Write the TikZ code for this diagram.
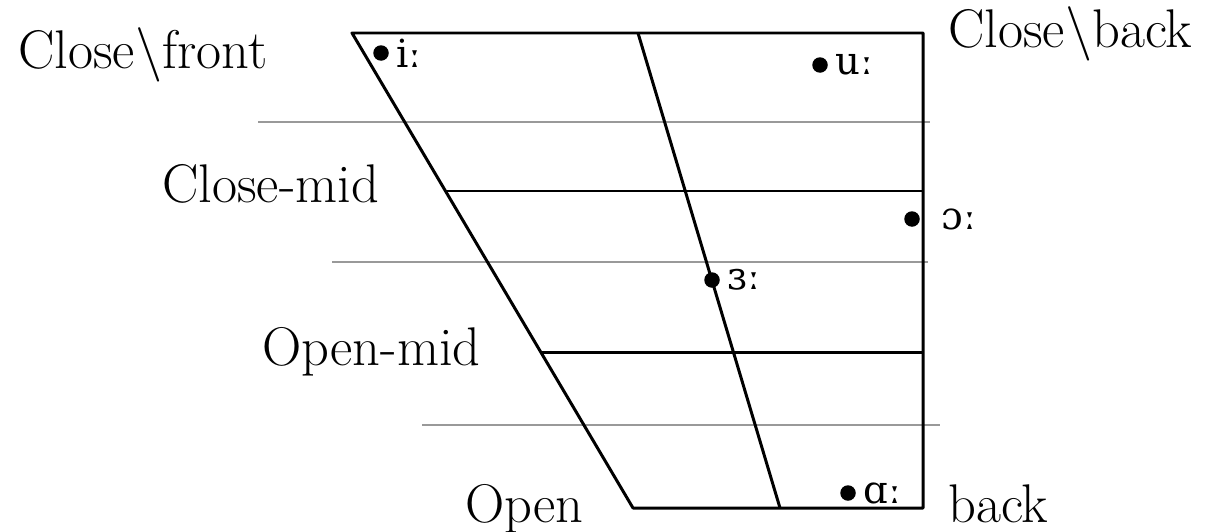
\documentclass[tikz,border=0pt]{standalone}
\usepackage{fontspec}
\newfontfamily\ipafont{DejaVu Serif}

\tikzset{
  vowel/.style={circle,fill,color=black,inner sep=0pt,minimum size=0.31cm},
  ipa/.style={text=black,font=\ipafont\fontsize{22}{26}\selectfont,inner sep=1pt,label distance=3pt},
  level/.style={font=\fontsize{31}{36}\selectfont,inner sep=0pt,anchor=base west},
  guide/.style={gray!80,line width=1pt}
}

\begin{document}
\begin{tikzpicture}[x=0.02cm,y=-0.02cm]
  \useasboundingbox (0,0) rectangle (1206,531);

  % corners of the chart
  \coordinate (cf) at (352, 33);
  \coordinate (cb) at (923, 33);
  \coordinate (of) at (633,508);
  \coordinate (ob) at (923,508);
  \coordinate (ct) at (638, 33);
  \coordinate (cbt) at (780,508);

  \coordinate (cm0) at (446,191);
  \coordinate (cm1) at (923,191);
  \coordinate (om0) at (541,352);
  \coordinate (om1) at (923,352);

  \coordinate (g10) at (258,122);
  \coordinate (g11) at (930,122);
  \coordinate (g20) at (332,262);
  \coordinate (g21) at (928,262);
  \coordinate (g30) at (422,425);
  \coordinate (g31) at (940,425);

  \draw[guide] (g10) -- (g11);
  \draw[guide] (g20) -- (g21);
  \draw[guide] (g30) -- (g31);

  \draw[line width=1.7pt,line join=round] (cf) -- (cb) -- (ob) -- (of) -- cycle;
  \draw[line width=1.7pt] (ct) -- (cbt);
  \draw[line width=1.7pt] (cm0) -- (cm1);
  \draw[line width=1.7pt] (om0) -- (om1);

  \node[level] (closefront) at (18,68) {Close\textbackslash front};
  \node[level] (closeback) at (948,47) {Close\textbackslash back};
  \node[level] (closemid) at (162,202) {Close-mid};
  \node[level] (openmid) at (262,365) {Open-mid};
  \node[level] (open) at (465,522) {Open};
  \node[level] (back) at (948,522) {back};

  \node[vowel,label={[ipa]right:iː}] (i) at (381,53) {};
  \node[vowel,label={[ipa]right:uː}] (u) at (820,65) {};
  \node[vowel,label={[ipa,label distance=11pt]right:ɔː}] (o) at (912,219) {};
  \node[vowel,label={[ipa]right:ɜː}] (er) at (712,280) {};
  \node[vowel,label={[ipa]right:ɑː}] (a) at (848,493) {};
\end{tikzpicture}
\end{document}
